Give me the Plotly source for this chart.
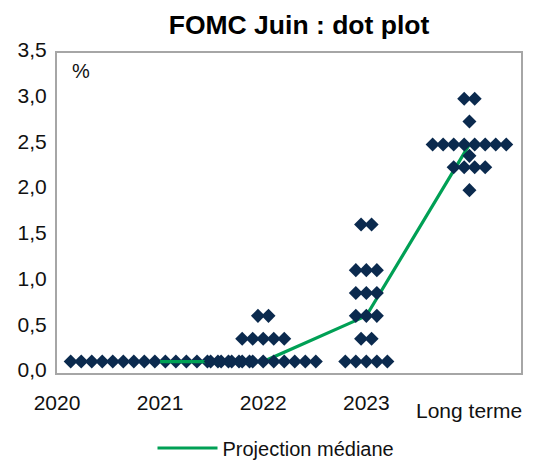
import plotly.graph_objects as go

# ---- data ----
tick_labels = ["2020", "2021", "2022", "2023"]
long_label = "Long terme"

# dot plot: rate levels and number of participants per level
rates_2021 = [0.125]
counts_2021 = [18]
rates_2022 = [0.125, 0.375, 0.625]
counts_2022 = [11, 5, 2]
rates_2023 = [0.125, 0.375, 0.625, 0.875, 1.125, 1.625]
counts_2023 = [5, 2, 3, 3, 3, 2]
rates_long = [2.0, 2.25, 2.375, 2.5, 2.75, 3.0]
counts_long = [1, 4, 1, 8, 1, 2]

median_pos = [1, 2, 3, 4]
median_vals = [0.125, 0.125, 0.625, 2.5]

NAVY = "#0B2A4E"
GREEN = "#00A055"
STEP = 0.102  # horizontal spacing between dots (x units)


def dots(center, rates, counts):
    xs, ys = [], []
    for r, c in zip(rates, counts):
        for i in range(c):
            xs.append(center + (i - (c - 1) / 2) * STEP)
            ys.append(r)
    return xs, ys


def dot_trace(center, rates, counts):
    xs, ys = dots(center, rates, counts)
    return go.Scatter(x=xs, y=ys, mode="markers", showlegend=False,
                      marker=dict(symbol="diamond", size=10.8, color=NAVY,
                                  line=dict(width=0)),
                      hoverinfo="y")


fig = go.Figure()
fig.add_trace(dot_trace(1, rates_2021, counts_2021))
fig.add_trace(go.Scatter(x=median_pos, y=median_vals, mode="lines",
                         name="Projection médiane",
                         line=dict(color=GREEN, width=3.2)))
fig.add_trace(dot_trace(2, rates_2022, counts_2022))
fig.add_trace(dot_trace(3, rates_2023, counts_2023))
fig.add_trace(dot_trace(4, rates_long, counts_long))

FONT = "Liberation Sans, Arial, sans-serif"

fig.update_layout(
    width=534, height=461,
    margin=dict(l=57, r=13, t=53, b=88, autoexpand=False),
    paper_bgcolor="white", plot_bgcolor="white",
    separators=", ",
    font=dict(family=FONT, size=21, color="#111111"),
    title=dict(text="<b>FOMC Juin : dot plot</b>", x=299 / 534, xanchor="center",
               y=1 - 25 / 461, yanchor="middle",
               font=dict(family=FONT, size=26.5, color="#000000")),
    showlegend=True,
    legend=dict(orientation="h", xref="container", yref="container",
                x=276 / 534, xanchor="center", y=1 - 448 / 461,
                yanchor="middle", font=dict(size=20), itemwidth=60,
                bgcolor="rgba(0,0,0,0)"),
    xaxis=dict(range=[0, 4.5], tickvals=[0, 1, 2, 3], ticktext=tick_labels,
               showgrid=False, zeroline=False, showline=True, mirror=True,
               linecolor="#A6A6A6", linewidth=2, ticks="",
               ticklabelstandoff=10, fixedrange=True),
    yaxis=dict(range=[0, 3.5], dtick=0.5, tickformat=".1f",
               showgrid=False, zeroline=False, showline=True, mirror=True,
               linecolor="#A6A6A6", linewidth=2, ticks="",
               ticklabelstandoff=4, ticklabelshift=-3, fixedrange=True),
    annotations=[
        dict(text="%", x=0.052, y=0.944, xref="paper", yref="paper",
             showarrow=False, xanchor="center", yanchor="middle",
             font=dict(size=20, color="#111111")),
        dict(text=long_label, x=4, y=-0.118, xref="x", yref="paper",
             showarrow=False, xanchor="center", yanchor="middle",
             font=dict(size=21, color="#111111")),
    ],
)

fig.write_html("out.html",
               config={"displayModeBar": False},
               post_script="document.body.style.margin='0';")
